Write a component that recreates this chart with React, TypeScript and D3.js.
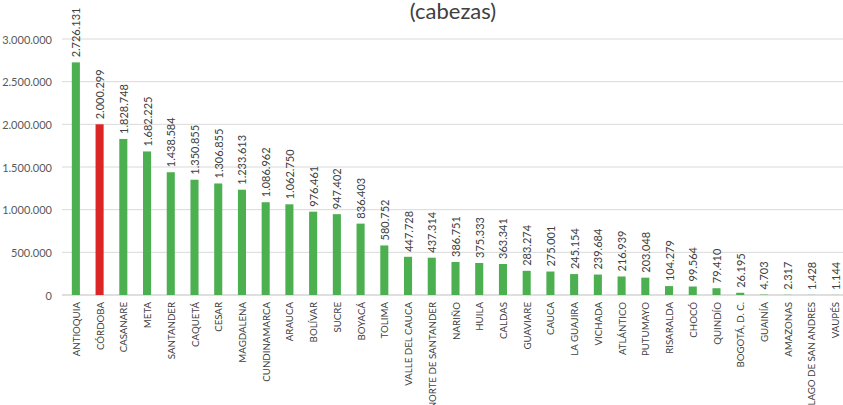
import React from "react";
import * as d3 from "d3";

const categories = [
  "ANTIOQUIA", "CÓRDOBA", "CASANARE", "META", "SANTANDER", "CAQUETÁ", "CESAR",
  "MAGDALENA", "CUNDINAMARCA", "ARAUCA", "BOLÍVAR", "SUCRE", "BOYACÁ", "TOLIMA",
  "VALLE DEL CAUCA", "NORTE DE SANTANDER", "NARIÑO", "HUILA", "CALDAS", "GUAVIARE",
  "CAUCA", "LA GUAJIRA", "VICHADA", "ATLÁNTICO", "PUTUMAYO", "RISARALDA", "CHOCÓ",
  "QUINDÍO", "BOGOTÁ, D. C.", "GUAINÍA", "AMAZONAS", "ARCHIPIELAGO DE SAN ANDRES", "VAUPÉS",
];
const values = [
  2726131, 2000299, 1828748, 1682225, 1438584, 1350855, 1306855,
  1233613, 1086962, 1062750, 976461, 947402, 836403, 580752,
  447728, 437314, 386751, 375333, 363341, 283274,
  275001, 245154, 239684, 216939, 203048, 104279, 99564,
  79410, 26195, 4703, 2317, 1428, 1144,
];
const highlighted = ["CÓRDOBA"];
const yTicks = [0, 500000, 1000000, 1500000, 2000000, 2500000, 3000000];
const title = "(cabezas)";

const fmt = (v: number) => d3.format(",")(v).replace(/,/g, ".");

export default function App() {
  const W = 843, H = 405;
  const x = d3.scaleBand<string>().domain(categories).range([64, 847]).paddingInner(0.66).paddingOuter(0.33);
  const y = d3.scaleLinear().domain([0, 3000000]).range([295, 39]);
  const font = "Lato, 'Open Sans', sans-serif";
  return (
    <svg width={W} height={H} style={{ position: "absolute", left: 0, top: 0, background: "#fff" }} fontFamily={font}>
      <text x={453} y={19} textAnchor="middle" fontSize={22} fill="#404040">{title}</text>
      {yTicks.map((t) => (
        <g key={t}>
          <line x1={62} x2={W} y1={y(t)} y2={y(t)} stroke={t === 0 ? "#bfbfbf" : "#d9d9d9"} strokeWidth={1} />
          <text x={52} y={y(t)} textAnchor="end" dominantBaseline="central" fontSize={11} fill="#595959">{fmt(t)}</text>
        </g>
      ))}
      {categories.map((c, i) => {
        const cx = (x(c) as number) + x.bandwidth() / 2;
        const top = y(values[i]);
        return (
          <g key={c}>
            <rect x={x(c)} y={top} width={x.bandwidth()} height={295 - top}
              fill={highlighted.includes(c) ? "#dc2626" : "#4caf50"} />
            <text transform={`translate(${cx},${top - 5}) rotate(-90)`} textAnchor="start"
              dominantBaseline="central" fontSize={11} fill="#404040">{fmt(values[i])}</text>
            <text transform={`translate(${cx},302) rotate(-90)`} textAnchor="end"
              dominantBaseline="central" fontSize={9.7} fill="#404040">{c}</text>
          </g>
        );
      })}
    </svg>
  );
}
